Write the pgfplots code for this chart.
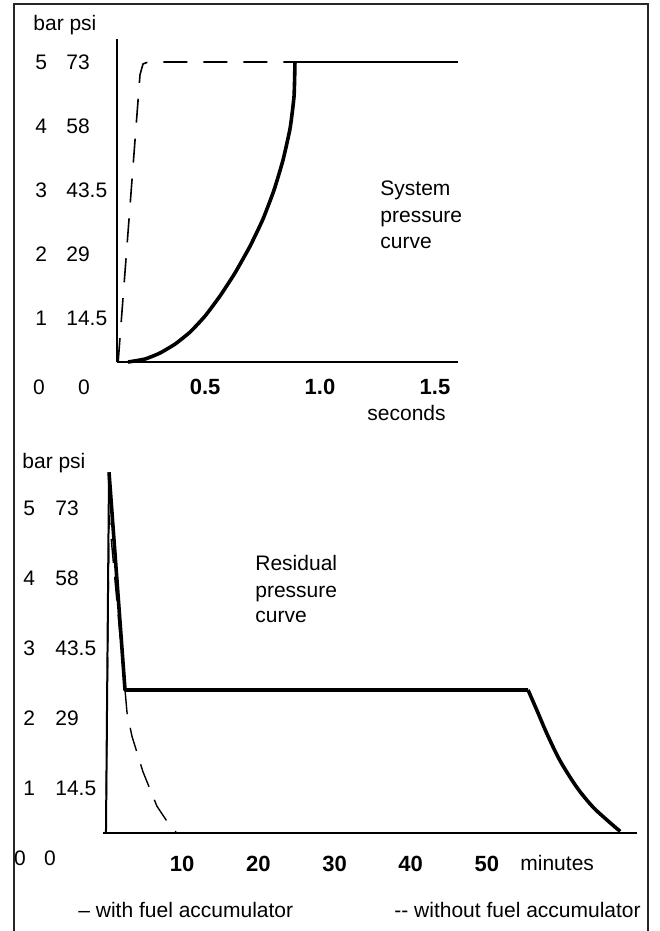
\documentclass[border=0pt]{standalone}
\usepackage{fontspec}
\setmainfont{Liberation Sans}
\usepackage{pgfplots}
\pgfplotsset{compat=1.18}

% 1 px of the reference = 0.5pt
\pgfplotsset{
  myax/.style={
    scale only axis,
    axis x line=bottom, axis y line=left,
    axis line style={-, line width=1pt},
    major tick length=0pt,
    tick style={draw=none},
    clip=false,
    ytick={1,2,3,4,5},
    yticklabel style={anchor=west, inner sep=0pt, font=\fontsize{10.5}{12}\selectfont},
    xticklabel style={anchor=center, inner sep=0pt, font=\fontsize{11}{13}\selectfont\bfseries},
  },
}

\begin{document}
\begin{tikzpicture}
\useasboundingbox (0,0) rectangle (329.5pt,-465.5pt);
\draw[line width=0.7pt, black!85] (7pt,-465.5pt) -- (7pt,-2pt) -- (324pt,-2pt) -- (324pt,-465.5pt);

% ---- system pressure (seconds) ----
\begin{axis}[myax,
  at={(58.5pt,-181pt)}, anchor=south west,
  width=170.5pt, height=161.5pt,
  xmin=0.117, xmax=1.6, ymin=0.3125, ymax=5.36,
  xtick={0.5,1.0,1.5}, xticklabels={0.5,1.0,1.5},
  xticklabel style={yshift=-12.5pt},
  yticklabel style={xshift=-41pt},
  yticklabels={{\makebox[15.5pt][l]{1}14.5},{\makebox[15.5pt][l]{2}29},{\makebox[15.5pt][l]{3}43.5},{\makebox[15.5pt][l]{4}58},{\makebox[15.5pt][l]{5}73}},
]
% with fuel accumulator
\addplot[black, line width=1.8pt, line join=round, smooth, tension=0.3] coordinates {
  (0.165,0.3125) (0.239,0.359) (0.304,0.453) (0.370,0.594) (0.435,0.781)
  (0.500,1.031) (0.565,1.344) (0.630,1.703) (0.696,2.125) (0.752,2.547)
  (0.800,3.000) (0.839,3.469) (0.870,3.969) (0.887,4.469) (0.891,5.0)};
\addplot[black, line width=0.8pt] coordinates {(0.891,5.0) (1.6,5.0)};
% without fuel accumulator
\addplot[black, line width=0.8pt, dash pattern=on 12pt off 8pt] coordinates {
  (0.122,0.3125) (0.217,4.8) (0.230,4.97) (0.252,5.0) (0.891,5.0)};
\end{axis}

% ---- residual pressure (minutes) ----
\begin{axis}[myax,
  at={(51.5pt,-416.5pt)}, anchor=south west,
  width=267pt, height=183.5pt,
  xmin=-0.39, xmax=69.7, ymin=0.357, ymax=5.6,
  y axis line style={draw=none},
  xtick={10,20,30,40,50}, xticklabels={10,20,30,40,50},
  xticklabel style={yshift=-15.5pt},
  yticklabel style={xshift=-40pt},
  yticklabels={{\makebox[16pt][l]{1}14.5},{\makebox[16pt][l]{2}29},{\makebox[16pt][l]{3}43.5},{\makebox[16pt][l]{4}58},{\makebox[16pt][l]{5}73}},
]
% with fuel accumulator
\addplot[black, line width=1pt] coordinates {(0,0.357) (0.4,5.51)};
\addplot[black, line width=1.8pt, line join=round] coordinates {
  (0.4,5.51) (2.5,2.40) (55.4,2.40)};
\addplot[black, line width=1.8pt, smooth, tension=0.5] coordinates {
  (55.4,2.40) (56.6,2.10) (57.9,1.77) (59.6,1.39) (61.8,1.01)
  (63.9,0.73) (66.1,0.51) (67.5,0.38)};
% without fuel accumulator
\addplot[black, line width=0.7pt, dash pattern=on 12pt off 7pt] coordinates {
  (0,0.357) (0.4,4.9) (2.5,2.4) (2.76,2.08) (3.41,1.74) (4.86,1.23)
  (6.69,0.74) (8.4,0.46) (9.2,0.37)};
\end{axis}

% ---- texts ----
\begin{scope}[every node/.style={inner sep=0pt, font=\fontsize{10.5}{12}\selectfont}]
\node[anchor=west] at (16.5pt,-12.5pt) {bar psi};
\node at (19.5pt,-193.5pt) {0};
\node at (42pt,-193.5pt) {0};
\node[anchor=base west] at (183.5pt,-210pt) {seconds};
\node[anchor=base west] at (190pt,-97.5pt) {System};
\node[anchor=base west] at (190pt,-111pt) {pressure};
\node[anchor=base west] at (190pt,-124pt) {curve};

\node[anchor=west] at (11pt,-231.5pt) {bar psi};
\node at (10pt,-429pt) {0};
\node at (25pt,-429pt) {0};
\node[anchor=base west] at (260pt,-435pt) {minutes};
\node[anchor=base west] at (127.5pt,-285pt) {Residual};
\node[anchor=base west] at (127.5pt,-298.5pt) {pressure};
\node[anchor=base west] at (127.5pt,-311pt) {curve};

\node[anchor=base west] at (39pt,-458.5pt) {– with fuel accumulator};
\node[anchor=base west] at (197pt,-458.5pt) {-{}- without fuel accumulator};
\end{scope}
\end{tikzpicture}
\end{document}
